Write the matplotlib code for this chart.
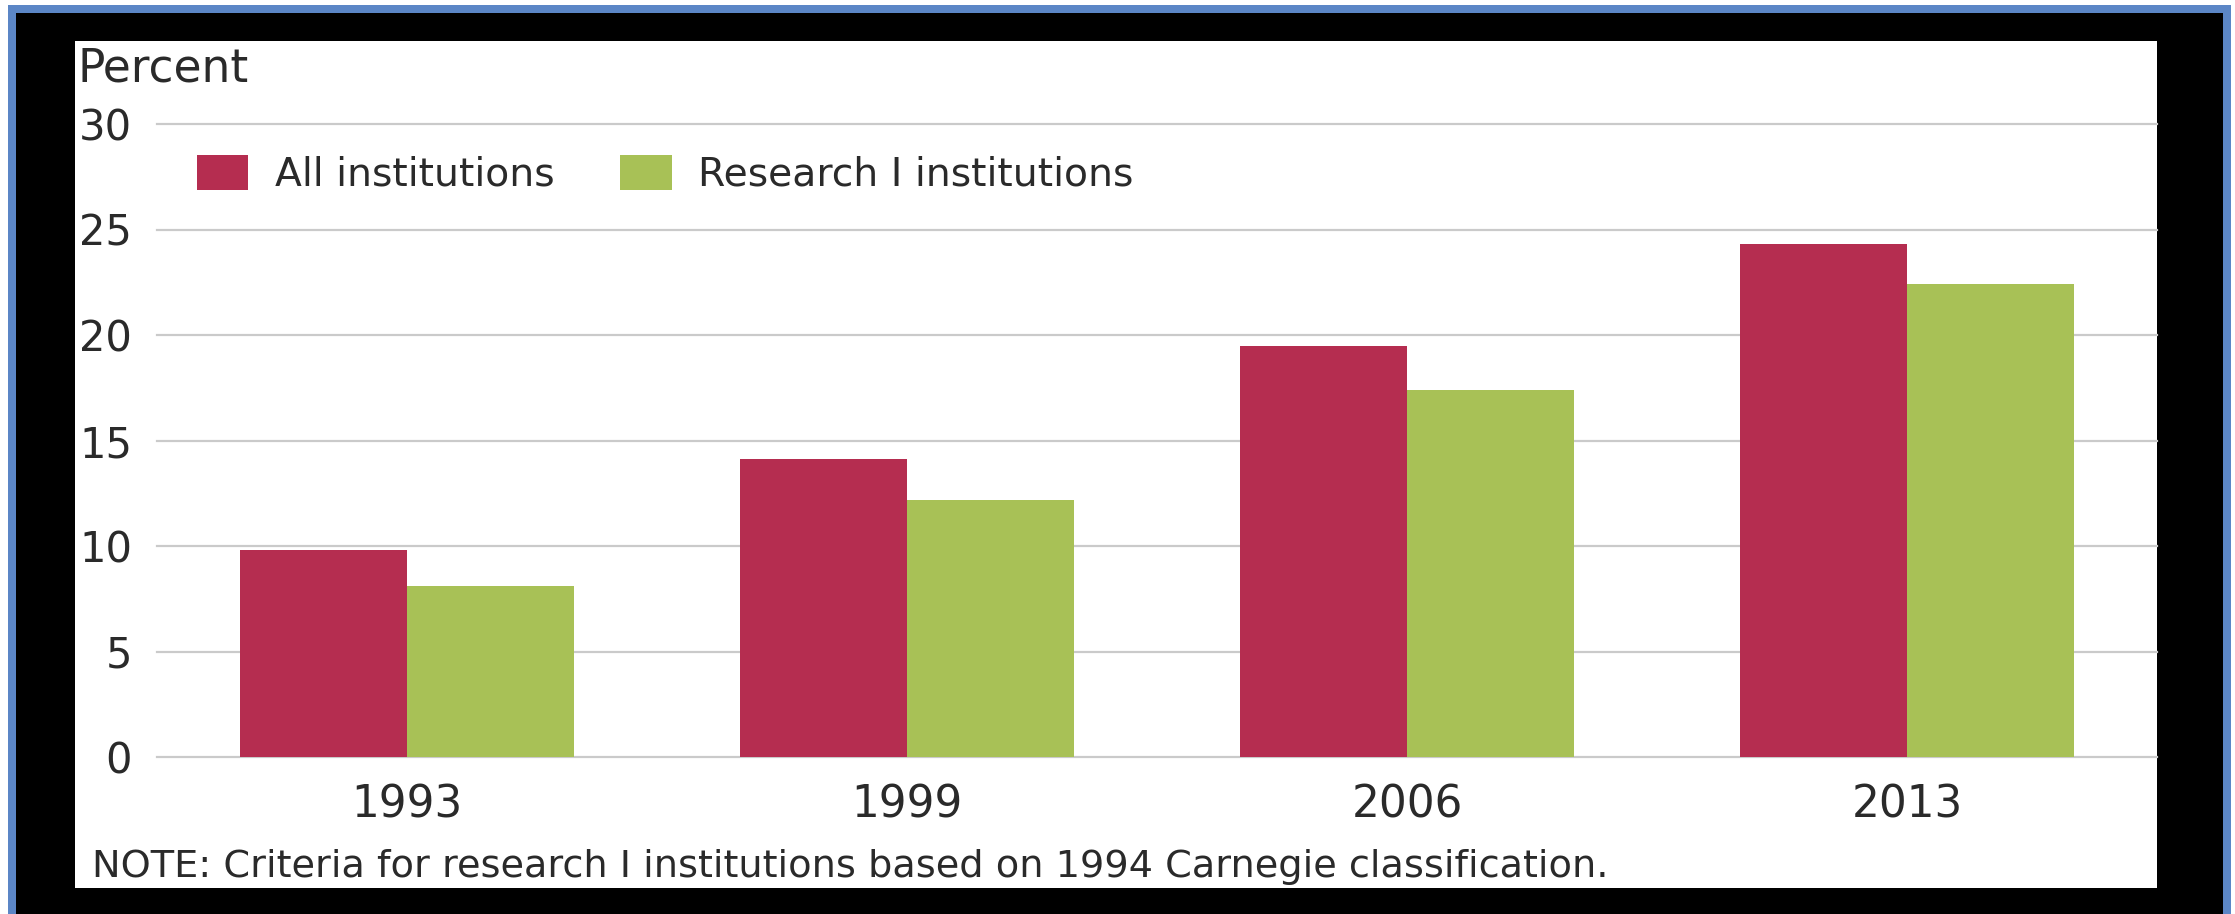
import matplotlib

matplotlib.use("Agg")
import matplotlib.pyplot as plt
import numpy as np
from matplotlib.patches import Rectangle

years = ["1993", "1999", "2006", "2013"]
all_institutions = [9.8, 14.1, 19.5, 24.3]
research_i = [8.1, 12.2, 17.4, 22.4]
series_labels = ["All institutions", "Research I institutions"]
y_ticks = [0, 5, 10, 15, 20, 25, 30]
note = "NOTE: Criteria for research I institutions based on 1994 Carnegie classification."

RED = "#b52d50"
GREEN = "#a8c156"
TEXT = "#2a2a2a"

W, H = 2235, 914
plt.rcParams["font.family"] = "DejaVu Sans"
fig = plt.figure(figsize=(W / 100, H / 100), dpi=100, facecolor="white")


def frac_rect(x0, y0, x1, y1, color):
    # pixel box (top-left origin) -> figure fraction rectangle
    r = Rectangle((x0 / W, 1 - y1 / H), (x1 - x0) / W, (y1 - y0) / H,
                  transform=fig.transFigure, facecolor=color, edgecolor="none", zorder=-10)
    fig.patches.append(r)


frac_rect(8, 5, 2231, 930, "#5b86c6")
frac_rect(16, 13, 2223, 930, "#000000")
frac_rect(75, 41, 2157, 888, "#ffffff")

ax = fig.add_axes([157 / W, 1 - 757 / H, 2000 / W, 633 / H])
ax.set_facecolor("none")

x = np.arange(len(years))
width = 1 / 3
b1 = ax.bar(x - width / 2, all_institutions, width, color=RED, label=series_labels[0], zorder=2)
b2 = ax.bar(x + width / 2, research_i, width, color=GREEN, label=series_labels[1], zorder=2)

ax.set_xlim(-0.5, 3.5)
ax.set_ylim(0, 30)
ax.set_yticks(y_ticks)
ax.set_xticks(x)
ax.set_xticklabels(years)
for s in ax.spines.values():
    s.set_visible(False)
ax.grid(axis="y", color="#cacaca", linewidth=1.6, zorder=0)
ax.set_axisbelow(True)
for gl in ax.get_ygridlines():
    gl.set_clip_on(False)
ax.tick_params(axis="both", length=0)
ax.tick_params(axis="y", pad=18, labelsize=30, labelcolor=TEXT)
ax.tick_params(axis="x", pad=19, labelsize=31.5, labelcolor=TEXT)

ax.legend(handles=[b1, b2], loc="center left", bbox_to_anchor=(0.02, 0.92),
          frameon=False, ncol=2, borderpad=0, borderaxespad=0,
          prop={"size": 28.3}, labelcolor=TEXT,
          handlelength=1.3, handleheight=0.97, handletextpad=0.68, columnspacing=1.68)

fig.text(77 / W, 1 - 82 / H, "Percent", fontsize=32.8,
         color=TEXT, va="baseline", ha="left")
fig.text(92 / W, 1 - 877 / H, note, fontsize=27.5,
         color=TEXT, va="baseline", ha="left")

fig.savefig("out.png", dpi=100, facecolor="white")
